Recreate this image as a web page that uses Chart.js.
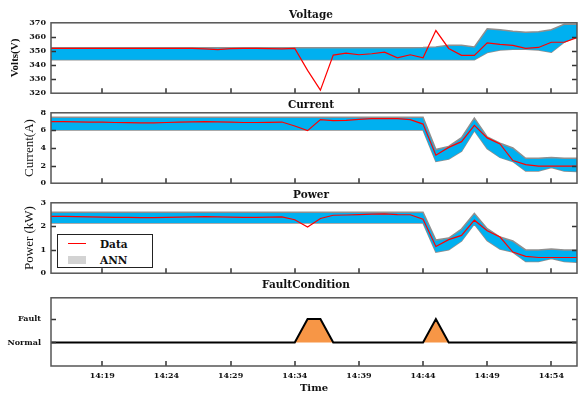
<!DOCTYPE html>
<html>
<head>
<meta charset="utf-8">
<title>Voltage, Current, Power and Fault Condition</title>
<script src="https://cdn.jsdelivr.net/npm/chart.js@4.4.1/dist/chart.umd.min.js"></script>
<style>
  html, body { margin: 0; padding: 0; background: #fff; }
  #page { position: relative; width: 578px; height: 394px; overflow: hidden; }
  canvas { position: absolute; left: 0; }
  .title {
    position: absolute; z-index: 2; white-space: nowrap; color: #111;
    font: bold 10.5px 'DejaVu Serif', serif; transform: translate(-50%, -50%);
  }
  #legend {
    position: absolute; z-index: 2; left: 57px; top: 234px; width: 94px; height: 32px;
    border: 1px solid #222; background: #fff; font: bold 10.5px 'DejaVu Serif', serif; color: #111;
  }
  #legend .sw { position: absolute; left: 10px; width: 18px; }
  #legend .txt { position: absolute; left: 42px; transform: translateY(-50%); }
</style>
</head>
<body>
<div id="page">
  <canvas id="cVolt" width="578" height="90" style="top:13px;width:578px;height:90px"></canvas>
  <canvas id="cCurr" width="578" height="90" style="top:103px;width:578px;height:90px"></canvas>
  <canvas id="cPow" width="578" height="90" style="top:193px;width:578px;height:90px"></canvas>
  <canvas id="cFault" width="578" height="111" style="top:283px;width:578px;height:111px"></canvas>

  <div class="title" style="left:311px;top:14px">Voltage</div>
  <div class="title" style="left:311px;top:104px">Current</div>
  <div class="title" style="left:311px;top:194px">Power</div>
  <div class="title" style="left:306px;top:284px">FaultCondition</div>

  <div id="legend">
    <div class="sw" style="top:8px;height:0;border-top:1.2px solid #ff0000"></div>
    <div class="txt" style="top:9px">Data</div>
    <div class="sw" style="top:21px;height:8px;background:#d3d3d3"></div>
    <div class="txt" style="top:25px">ANN</div>
  </div>
</div>

<script>
// time axis (one sample per minute)
const times = ['14:15', '14:16', '14:17', '14:18', '14:19', '14:20', '14:21', '14:22', '14:23', '14:24',
  '14:25', '14:26', '14:27', '14:28', '14:29', '14:30', '14:31', '14:32', '14:33', '14:34',
  '14:35', '14:36', '14:37', '14:38', '14:39', '14:40', '14:41', '14:42', '14:43', '14:44',
  '14:45', '14:46', '14:47', '14:48', '14:49', '14:50', '14:51', '14:52', '14:53', '14:54',
  '14:55', '14:56'];
const tickLabels = ['14:19', '14:24', '14:29', '14:34', '14:39', '14:44', '14:49', '14:54'];

// Voltage (V)
const voltData = [351.8, 351.8, 351.8, 351.8, 351.8, 351.8, 351.8, 351.8, 351.8, 351.8,
  351.8, 351.8, 351.5, 351.0, 351.6, 351.8, 351.8, 351.6, 351.5, 351.8,
  336.2, 322.2, 347.1, 348.5, 347.3, 348.0, 349.1, 345.1, 347.3, 345.1,
  364.5, 351.8, 346.9, 346.9, 355.8, 354.7, 354.0, 351.8, 352.5, 356.2,
  356.2, 359.5];
const voltUpper = [352.3, 352.3, 352.3, 352.3, 352.3, 352.3, 352.3, 352.3, 352.3, 352.3,
  352.3, 352.3, 352.3, 352.3, 352.3, 352.3, 352.3, 352.3, 352.3, 352.3,
  352.3, 352.3, 352.3, 352.3, 352.3, 352.3, 352.3, 352.3, 352.3, 352.4,
  352.9, 354.0, 354.0, 352.9, 365.8, 365.1, 364.0, 363.3, 363.6, 365.1,
  368.9, 368.9];
const voltLower = [343.8, 343.8, 343.8, 343.8, 343.8, 343.8, 343.8, 343.8, 343.8, 343.8,
  343.8, 343.8, 343.8, 343.8, 343.8, 343.8, 343.8, 343.8, 343.8, 343.8,
  343.8, 343.8, 343.8, 343.8, 343.8, 343.8, 343.8, 343.8, 343.8, 343.8,
  343.8, 343.8, 343.8, 343.8, 348.9, 350.7, 351.3, 351.3, 350.7, 349.1,
  356.2, 360.3];

// Current (A)
const currData = [7.0, 7.0, 6.98, 6.95, 6.93, 6.9, 6.88, 6.86, 6.86, 6.9,
  6.93, 6.96, 7.0, 6.97, 6.93, 6.9, 6.9, 6.92, 6.95, 6.5,
  5.97, 7.22, 7.11, 7.15, 7.25, 7.33, 7.33, 7.33, 7.22, 6.72,
  3.18, 4.07, 4.72, 6.58, 5.15, 4.47, 2.57, 2.11, 1.93, 1.93,
  1.93, 1.93];
const currUpper = [7.5, 7.5, 7.5, 7.5, 7.5, 7.5, 7.5, 7.5, 7.5, 7.5,
  7.5, 7.5, 7.5, 7.5, 7.5, 7.5, 7.5, 7.5, 7.5, 7.5,
  7.5, 7.5, 7.5, 7.5, 7.5, 7.5, 7.5, 7.5, 7.5, 7.5,
  3.83, 4.18, 5.18, 7.4, 5.25, 4.54, 4.0, 2.83, 2.83, 2.93,
  2.83, 2.83];
const currLower = [6.04, 6.04, 6.04, 6.04, 6.04, 6.04, 6.04, 6.04, 6.04, 6.04,
  6.04, 6.04, 6.04, 6.04, 6.04, 6.04, 6.04, 6.04, 6.04, 6.04,
  6.04, 6.04, 6.04, 6.04, 6.04, 6.04, 6.04, 6.04, 6.04, 6.04,
  2.47, 2.75, 3.64, 5.97, 3.93, 2.93, 2.47, 1.39, 1.39, 1.79,
  1.39, 1.32];

// Power (kW)
const powData = [2.42, 2.42, 2.41, 2.4, 2.39, 2.38, 2.38, 2.37, 2.37, 2.38,
  2.39, 2.4, 2.41, 2.4, 2.39, 2.38, 2.38, 2.39, 2.4, 2.28,
  1.97, 2.33, 2.47, 2.48, 2.5, 2.52, 2.53, 2.5, 2.49, 2.3,
  1.14, 1.43, 1.61, 2.26, 1.81, 1.54, 0.9, 0.72, 0.67, 0.67,
  0.67, 0.67];
const powUpper = [2.6, 2.6, 2.6, 2.6, 2.6, 2.6, 2.6, 2.6, 2.6, 2.6,
  2.6, 2.6, 2.6, 2.6, 2.6, 2.6, 2.6, 2.6, 2.6, 2.6,
  2.6, 2.6, 2.6, 2.6, 2.6, 2.6, 2.6, 2.6, 2.6, 2.6,
  1.41, 1.5, 1.88, 2.55, 1.9, 1.54, 1.37, 0.99, 0.99, 1.03,
  0.99, 0.99];
const powLower = [2.14, 2.14, 2.14, 2.14, 2.14, 2.14, 2.14, 2.14, 2.14, 2.14,
  2.14, 2.14, 2.14, 2.14, 2.14, 2.14, 2.14, 2.14, 2.14, 2.14,
  2.14, 2.14, 2.14, 2.14, 2.14, 2.14, 2.14, 2.14, 2.14, 2.14,
  0.9, 1.0, 1.37, 2.1, 1.39, 1.03, 0.9, 0.5, 0.5, 0.63,
  0.5, 0.47];

// Fault condition (0 = Normal, 1 = Fault)
const faultData = [0, 0, 0, 0, 0, 0, 0, 0, 0, 0,
  0, 0, 0, 0, 0, 0, 0, 0, 0, 0,
  1, 1, 0, 0, 0, 0, 0, 0, 0, 0,
  1, 0, 0, 0, 0, 0, 0, 0, 0, 0,
  0, 0];
const faultTicks = [0, 1];
const faultLabels = ['Normal', 'Fault'];

const BLUE = '#00b0f0';
const EDGE = '#8f8f8f';
const RED = '#ff0000';
const ORANGE = '#f79646';
const tickFont = { family: "'DejaVu Serif', serif", size: 8, weight: 'bold' };

// box around each panel + short ticks pointing inwards
const frame = {
  id: 'frame',
  afterDatasetsDraw(chart) {
    const { ctx, chartArea: a, scales: { x, y } } = chart;
    ctx.save();
    ctx.strokeStyle = '#333';
    ctx.lineWidth = 1.5;
    ctx.beginPath();
    tickLabels.forEach(l => {
      const px = Math.round(x.getPixelForValue(times.indexOf(l)));
      ctx.moveTo(px, a.bottom);
      ctx.lineTo(px, a.bottom - 5);
    });
    y.ticks.forEach(t => {
      if (t.value <= y.min || t.value >= y.max) return;
      const py = Math.round(y.getPixelForValue(t.value)) + 0.5;
      ctx.moveTo(a.left, py);
      ctx.lineTo(a.left + 5, py);
      ctx.moveTo(a.right, py);
      ctx.lineTo(a.right - 5, py);
    });
    ctx.stroke();
    ctx.strokeStyle = '#555';
    ctx.strokeRect(a.left, a.top, a.width, a.height);
    ctx.restore();
  }
};

function bandSets(data, upper, lower) {
  return [
    { data: data, borderColor: RED, borderWidth: 1.2, fill: false },
    { data: upper, borderColor: EDGE, borderWidth: 1.5, backgroundColor: BLUE, fill: '+1' },
    { data: lower, borderColor: EDGE, borderWidth: 1.5, fill: false }
  ];
}

function xScale(show) {
  return {
    type: 'category',
    display: show,
    grid: { display: false, drawTicks: false },
    border: { display: false },
    ticks: {
      autoSkip: false, maxRotation: 0, padding: 5, color: '#111', font: tickFont,
      callback(v) {
        const l = this.getLabelForValue(v);
        return tickLabels.includes(l) ? l : null;
      }
    },
    title: {
      display: show, text: 'Time', color: '#111',
      font: { family: "'DejaVu Serif', serif", size: 10, weight: 'bold' },
      padding: { top: 0, bottom: 0 }
    },
    afterFit(s) { s.height = show ? 28 : 0; }
  };
}

function yScale(opts) {
  return Object.assign({
    grid: { display: false, drawTicks: false },
    border: { display: false },
    afterFit(s) { s.width = 51; }
  }, opts);
}

function makeChart(id, datasets, yOpts, showX) {
  return new Chart(document.getElementById(id), {
    type: 'line',
    data: { labels: times, datasets: datasets },
    options: {
      responsive: false,
      animation: false,
      layout: { padding: { left: 0, right: 1, top: 8, bottom: showX ? 0 : 7 } },
      elements: { point: { radius: 0 }, line: { tension: 0 } },
      plugins: { legend: { display: false }, tooltip: { enabled: false } },
      scales: { x: xScale(showX), y: yOpts }
    },
    plugins: [frame]
  });
}

makeChart('cVolt', bandSets(voltData, voltUpper, voltLower), yScale({
  min: 320, max: 370,
  ticks: { stepSize: 10, autoSkip: false, padding: 5, color: '#111', font: tickFont },
  title: { display: true, text: 'Volts(V)', color: '#111',
    font: { family: "'Liberation Serif', serif", size: 11, weight: 'bold' }, padding: { top: 9, bottom: 0 } }
}), false);

makeChart('cCurr', bandSets(currData, currUpper, currLower), yScale({
  min: 0, max: 8,
  ticks: { stepSize: 2, autoSkip: false, padding: 5, color: '#111', font: tickFont },
  title: { display: true, text: 'Current(A)', color: '#111',
    font: { family: "'Liberation Serif', serif", size: 13 }, padding: { top: 22, bottom: 0 } }
}), false);

makeChart('cPow', bandSets(powData, powUpper, powLower), yScale({
  min: 0, max: 3,
  ticks: { stepSize: 1, autoSkip: false, padding: 5, color: '#111', font: tickFont },
  title: { display: true, text: 'Power (kW)', color: '#111',
    font: { family: "'Liberation Serif', serif", size: 13 }, padding: { top: 22, bottom: 0 } }
}), false);

makeChart('cFault', [
  { data: faultData, borderColor: '#000', borderWidth: 2, backgroundColor: ORANGE, fill: 'origin' }
], yScale({
  min: -1, max: 1.9,
  afterBuildTicks(s) { s.ticks = faultTicks.map(v => ({ value: v })); },
  ticks: {
    padding: 10, color: '#111', font: tickFont,
    callback(v) { return faultLabels[faultTicks.indexOf(v)]; }
  }
}), true);
</script>
</body>
</html>
